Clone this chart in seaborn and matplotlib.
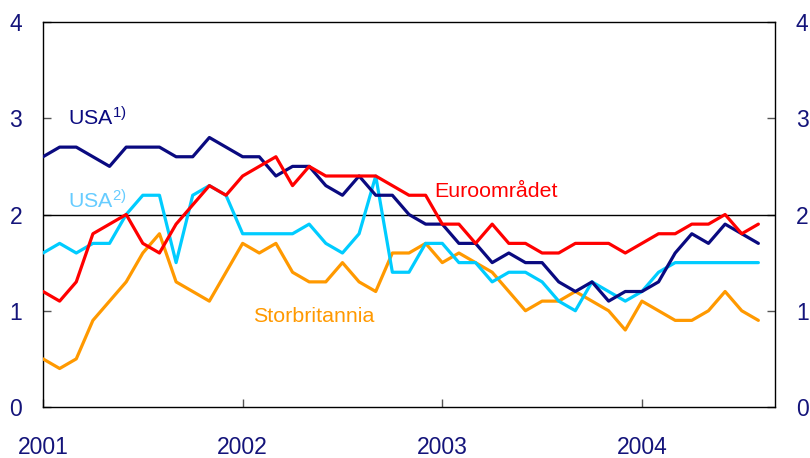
import matplotlib
matplotlib.use("Agg")
import matplotlib.pyplot as plt
import seaborn as sns
import pandas as pd
import numpy as np

# Monthly data, Jan 2001 - Aug 2004
months = pd.date_range("2001-01-01", "2004-08-01", freq="MS")
year_labels = ["2001", "2002", "2003", "2004"]
y_ticks = [0, 1, 2, 3, 4]

usa1 = [2.6, 2.7, 2.7, 2.6, 2.5, 2.7, 2.7, 2.7, 2.6, 2.6, 2.8, 2.7,
        2.6, 2.6, 2.4, 2.5, 2.5, 2.3, 2.2, 2.4, 2.2, 2.2, 2.0, 1.9,
        1.9, 1.7, 1.7, 1.5, 1.6, 1.5, 1.5, 1.3, 1.2, 1.3, 1.1, 1.2,
        1.2, 1.3, 1.6, 1.8, 1.7, 1.9, 1.8, 1.7]
usa2 = [1.6, 1.7, 1.6, 1.7, 1.7, 2.0, 2.2, 2.2, 1.5, 2.2, 2.3, 2.2,
        1.8, 1.8, 1.8, 1.8, 1.9, 1.7, 1.6, 1.8, 2.4, 1.4, 1.4, 1.7,
        1.7, 1.5, 1.5, 1.3, 1.4, 1.4, 1.3, 1.1, 1.0, 1.3, 1.2, 1.1,
        1.2, 1.4, 1.5, 1.5, 1.5, 1.5, 1.5, 1.5]
euro = [1.2, 1.1, 1.3, 1.8, 1.9, 2.0, 1.7, 1.6, 1.9, 2.1, 2.3, 2.2,
        2.4, 2.5, 2.6, 2.3, 2.5, 2.4, 2.4, 2.4, 2.4, 2.3, 2.2, 2.2,
        1.9, 1.9, 1.7, 1.9, 1.7, 1.7, 1.6, 1.6, 1.7, 1.7, 1.7, 1.6,
        1.7, 1.8, 1.8, 1.9, 1.9, 2.0, 1.8, 1.9]
uk = [0.5, 0.4, 0.5, 0.9, 1.1, 1.3, 1.6, 1.8, 1.3, 1.2, 1.1, 1.4,
      1.7, 1.6, 1.7, 1.4, 1.3, 1.3, 1.5, 1.3, 1.2, 1.6, 1.6, 1.7,
      1.5, 1.6, 1.5, 1.4, 1.2, 1.0, 1.1, 1.1, 1.2, 1.1, 1.0, 0.8,
      1.1, 1.0, 0.9, 0.9, 1.0, 1.2, 1.0, 0.9]

series_names = ["USA1", "USA2", "Euro", "UK"]
palette = {"USA1": "#0A0A80", "USA2": "#00CCFF", "Euro": "#FF0000", "UK": "#FF9900"}

idx = np.arange(len(months))
df = pd.concat([
    pd.DataFrame({"t": idx, "value": v, "series": n})
    for n, v in zip(series_names, [usa1, usa2, euro, uk])
])

sns.set_theme(style="white")
plt.rcParams["font.family"] = ["Liberation Sans", "DejaVu Sans"]
plt.rcParams["mathtext.fontset"] = "custom"
plt.rcParams["mathtext.rm"] = "Liberation Sans"
plt.rcParams["mathtext.it"] = "Liberation Sans"

fig = plt.figure(figsize=(8.10, 4.58), dpi=100)
ax = fig.add_axes([43 / 810, 1 - 407 / 458, (775 - 43) / 810, (407 - 22) / 458])

ax.axhline(2, color="black", lw=1.0, zorder=1)

sns.lineplot(data=df, x="t", y="value", hue="series", palette=palette,
             hue_order=["UK", "USA2", "USA1", "Euro"],
             linewidth=2.3, legend=False, ax=ax, zorder=3)

ax.set_xlim(0, 44)
ax.set_ylim(0, 4)
ax.set_xlabel("")
ax.set_ylabel("")

tick_color = "#14147A"
ax.set_yticks(y_ticks)
ax.set_yticklabels([str(t) for t in y_ticks])
ax.set_xticks([0, 12, 24, 36])
ax.set_xticklabels(year_labels)

ax.tick_params(axis="y", which="both", direction="in", length=6, width=1,
               color="#555555", labelsize=16.5, labelcolor=tick_color,
               left=True, right=True, labelleft=True, labelright=True, pad=15)
ax.tick_params(axis="x", direction="in", length=6, width=1, color="#555555",
               labelsize=16.5, labelcolor=tick_color, bottom=True, pad=21)

for s in ax.spines.values():
    s.set_visible(True)
    s.set_color("black")
    s.set_linewidth(1.0)

lbl_size = 15.4
ax.text(1.5, 2.92, "USA$^{1)}$", color="#0A0A80", fontsize=lbl_size, va="baseline")
ax.text(1.5, 2.06, "USA$^{2)}$", color="#66CCFF", fontsize=lbl_size, va="baseline")
ax.text(23.5, 2.18, "Euroområdet", color="#FF0000", fontsize=lbl_size, va="baseline")
ax.text(12.6, 0.88, "Storbritannia", color="#FF9900", fontsize=lbl_size, va="baseline")

fig.savefig("out.png", dpi=100)
